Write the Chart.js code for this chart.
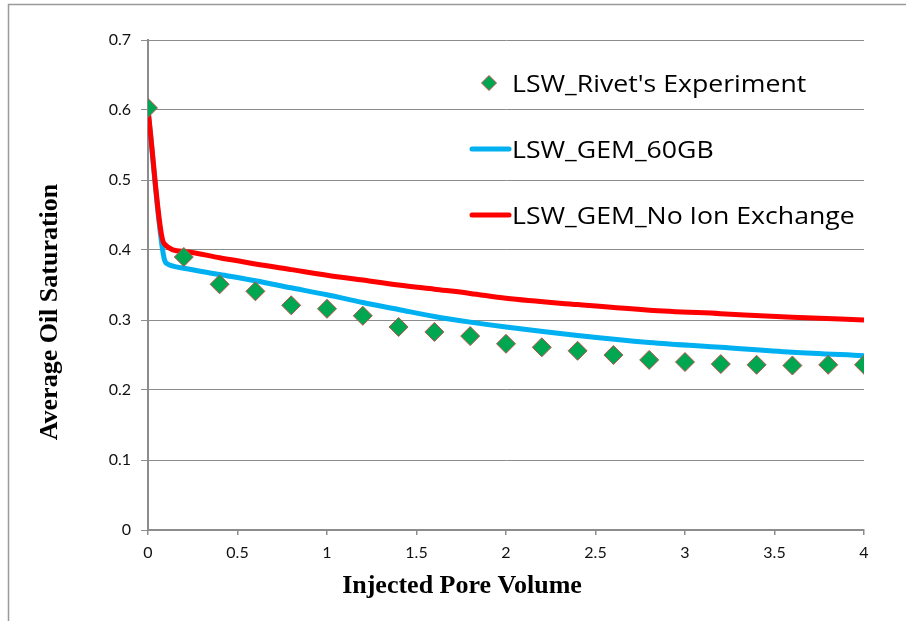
<!DOCTYPE html>
<html>
<head>
<meta charset="utf-8">
<script src="https://cdn.jsdelivr.net/npm/chart.js@4/dist/chart.umd.min.js"></script>
<style>
  html, body { margin: 0; padding: 0; background: #fff; }
  #wrap { width: 906px; height: 621px; }
</style>
</head>
<body>
<div id="wrap"><canvas id="c" width="906" height="621"></canvas></div>
<script>
// Injected pore volume of the experimental samples
const expPV = [0, 0.2, 0.4, 0.6, 0.8, 1.0, 1.2, 1.4, 1.6, 1.8, 2.0,
               2.2, 2.4, 2.6, 2.8, 3.0, 3.2, 3.4, 3.6, 3.8, 4.0];
// Measured average oil saturation (Rivet's coreflood)
const expSo = [0.603, 0.390, 0.351, 0.341, 0.321, 0.316, 0.306, 0.290, 0.283, 0.277, 0.266,
               0.261, 0.256, 0.250, 0.243, 0.240, 0.237, 0.236, 0.235, 0.236, 0.236];

// GEM simulation with 60GB ion exchange
const gemPV = [0, 0.09, 0.11, 0.14, 0.2, 0.4, 0.6, 0.8, 1.0, 1.2, 1.4, 1.6, 1.8, 2.0,
               2.4, 2.8, 3.2, 3.6, 4.0];
const gemSo = [0.600, 0.388, 0.380, 0.377, 0.374, 0.365, 0.356, 0.346, 0.336, 0.325, 0.315,
               0.305, 0.297, 0.290, 0.278, 0.268, 0.261, 0.254, 0.249];

// GEM simulation without ion exchange
const noIxPV = [0, 0.09, 0.2, 0.4, 0.6, 0.8, 1.0, 1.2, 1.4, 1.6, 1.8, 2.0,
                2.4, 2.8, 3.2, 3.6, 4.0];
const noIxSo = [0.600, 0.409, 0.398, 0.389, 0.380, 0.372, 0.364, 0.357, 0.350, 0.344, 0.338,
                0.331, 0.322, 0.314, 0.309, 0.304, 0.300];

// Axis ticks
const xTicks = [0, 0.5, 1, 1.5, 2, 2.5, 3, 3.5, 4];
const xTickLabels = ['0', '0.5', '1', '1.5', '2', '2.5', '3', '3.5', '4'];
const yTicks = [0, 0.1, 0.2, 0.3, 0.4, 0.5, 0.6, 0.7];
const yTickLabels = ['0', '0.1', '0.2', '0.3', '0.4', '0.5', '0.6', '0.7'];

const seriesNames = ["LSW_Rivet's Experiment", 'LSW_GEM_60GB', 'LSW_GEM_No Ion Exchange'];
const xTitle = 'Injected Pore Volume';
const yTitle = 'Average Oil Saturation';

const toXY = (xs, ys) => xs.map((x, i) => ({ x: x, y: ys[i] }));

const GRID = '#8c8c8c';
const TICK_FONT = { family: 'Lato', size: 16 };

// Outer frame (top and left edges only)
const framePlugin = {
  id: 'frame',
  beforeDraw(chart) {
    const ctx = chart.ctx;
    ctx.save();
    ctx.strokeStyle = '#9a9a9a';
    ctx.lineWidth = 1.5;
    ctx.beginPath();
    ctx.moveTo(906, 4.5);
    ctx.lineTo(8.5, 4.5);
    ctx.lineTo(8.5, 621);
    ctx.stroke();
    ctx.restore();
  }
};

// Axis titles
const titlePlugin = {
  id: 'axisTitles',
  afterDraw(chart) {
    const ctx = chart.ctx;
    ctx.save();
    ctx.fillStyle = '#000';
    ctx.font = 'bold 26px "Liberation Serif"';
    ctx.textAlign = 'center';
    ctx.textBaseline = 'alphabetic';
    ctx.fillText(xTitle, 462, 593);
    ctx.translate(57, 312);
    ctx.rotate(-Math.PI / 2);
    ctx.fillText(yTitle, 0, 0);
    ctx.restore();
  }
};

// Legend inside the plot area, drawn from the dataset styles
const legendPlugin = {
  id: 'innerLegend',
  afterDraw(chart) {
    const ctx = chart.ctx;
    const rowsY = [83, 149, 215];
    const textX = 512;
    const stretch = 1.11;
    ctx.save();
    ctx.font = '24px "Open Sans"';
    ctx.textBaseline = 'middle';
    ctx.textAlign = 'left';
    chart.data.datasets.forEach((ds, i) => {
      const y = rowsY[i];
      if (ds.showLine === false) {
        const cx = 489, r = 7.5;
        ctx.beginPath();
        ctx.moveTo(cx, y - r);
        ctx.lineTo(cx + r, y);
        ctx.lineTo(cx, y + r);
        ctx.lineTo(cx - r, y);
        ctx.closePath();
        ctx.fillStyle = ds.backgroundColor;
        ctx.fill();
        ctx.lineWidth = 1;
        ctx.strokeStyle = ds.pointBorderColor;
        ctx.stroke();
      } else {
        ctx.beginPath();
        ctx.moveTo(472, y);
        ctx.lineTo(509, y);
        ctx.lineCap = 'round';
        ctx.lineWidth = 5;
        ctx.strokeStyle = ds.borderColor;
        ctx.stroke();
      }
      ctx.save();
      ctx.translate(textX, y + 2);
      ctx.scale(stretch, 1);
      ctx.fillStyle = '#000';
      ctx.fillText(ds.label, 0, 0);
      ctx.restore();
    });
    ctx.restore();
  }
};

new Chart(document.getElementById('c'), {
  type: 'scatter',
  data: {
    datasets: [
      {
        label: seriesNames[0],
        data: toXY(expPV, expSo),
        showLine: false,
        pointStyle: 'rectRot',
        pointRadius: 9.5,
        pointHoverRadius: 9.5,
        backgroundColor: '#00A650',
        pointBorderColor: '#C0504D',
        borderColor: '#C0504D',
        pointBorderWidth: 1,
        order: 0
      },
      {
        label: seriesNames[1],
        data: toXY(gemPV, gemSo),
        showLine: true,
        borderColor: '#00B0F0',
        backgroundColor: '#00B0F0',
        borderWidth: 5,
        pointRadius: 0,
        cubicInterpolationMode: 'monotone',
        order: 2
      },
      {
        label: seriesNames[2],
        data: toXY(noIxPV, noIxSo),
        showLine: true,
        borderColor: '#FF0000',
        backgroundColor: '#FF0000',
        borderWidth: 5,
        pointRadius: 0,
        cubicInterpolationMode: 'monotone',
        order: 1
      }
    ]
  },
  options: {
    responsive: false,
    animation: false,
    devicePixelRatio: 1,
    layout: { padding: { left: 10, right: 42, top: 40, bottom: 0 } },
    plugins: {
      legend: { display: false },
      tooltip: { enabled: false }
    },
    scales: {
      x: {
        type: 'linear',
        min: 0,
        max: 4,
        afterBuildTicks(scale) { scale.ticks = xTicks.map(v => ({ value: v })); },
        afterFit(scale) { scale.height = 91; },
        ticks: {
          color: '#111',
          font: TICK_FONT,
          padding: 8,
          maxRotation: 0,
          callback: (v, i) => xTickLabels[i]
        },
        grid: {
          drawOnChartArea: false,
          drawTicks: true,
          tickLength: 5,
          color: GRID,
          lineWidth: 1.5
        },
        border: { color: GRID, width: 2 }
      },
      y: {
        type: 'linear',
        min: 0,
        max: 0.7,
        afterBuildTicks(scale) { scale.ticks = yTicks.map(v => ({ value: v })); },
        afterFit(scale) { scale.width = 138; },
        ticks: {
          color: '#111',
          font: TICK_FONT,
          padding: 10,
          callback: (v, i) => yTickLabels[i]
        },
        grid: {
          drawTicks: true,
          tickLength: 7,
          color: GRID,
          lineWidth: 1
        },
        border: { color: GRID, width: 2 }
      }
    }
  },
  plugins: [framePlugin, titlePlugin, legendPlugin]
});
</script>
</body>
</html>
